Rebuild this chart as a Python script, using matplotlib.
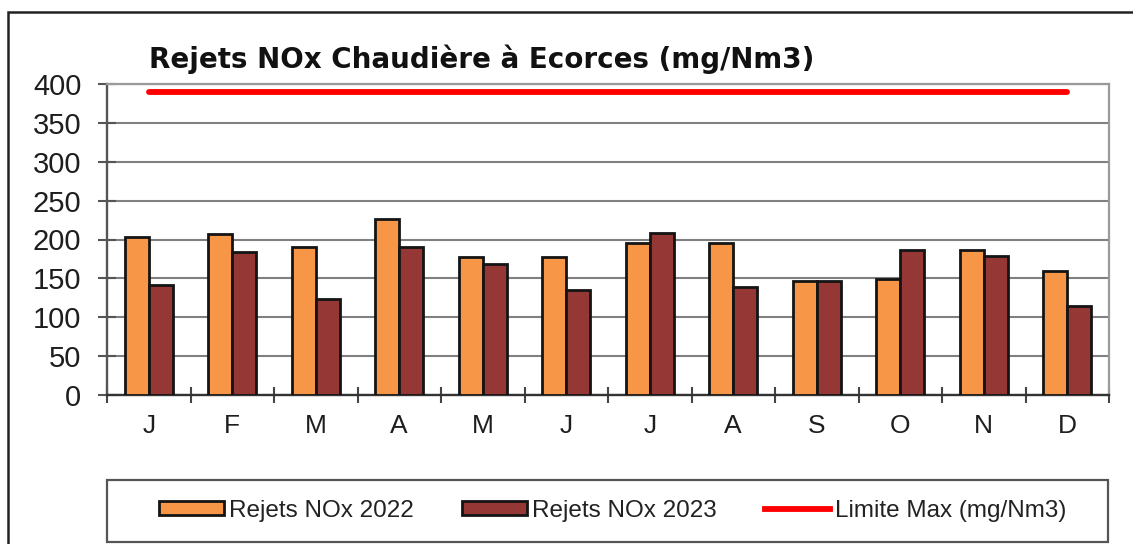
import matplotlib
matplotlib.use("Agg")
import matplotlib.pyplot as plt
from matplotlib.patches import Rectangle
from matplotlib.lines import Line2D
import numpy as np

months = ["J", "F", "M", "A", "M", "J", "J", "A", "S", "O", "N", "D"]
nox_2022 = [203, 207, 190, 227, 178, 178, 195, 195, 146, 149, 186, 160]
nox_2023 = [141, 184, 123, 190, 168, 135, 209, 139, 146, 186, 179, 115]
limite_max = [390] * 12
yticks = [0, 50, 100, 150, 200, 250, 300, 350, 400]

title = "Rejets NOx Chaudière à Ecorces (mg/Nm3)"
labels = ["Rejets NOx 2022", "Rejets NOx 2023", "Limite Max (mg/Nm3)"]

c_2022 = "#F79646"
c_2023 = "#953735"
c_lim = "#FF0000"
c_edge = "#141414"

plt.rcParams['font.family'] = ['Liberation Sans', 'DejaVu Sans']

W, H = 1133, 544
fig = plt.figure(figsize=(W / 100, H / 100), dpi=100)
fig.patch.set_facecolor("white")

# axes placement in pixels
L, R, T, B = 107, 1109, 84, 395
ax = fig.add_axes([L / W, 1 - B / H, (R - L) / W, (B - T) / H])

x = np.arange(len(months))
bw = 0.29
ax.bar(x - bw / 2, nox_2022, width=bw, color=c_2022, edgecolor=c_edge,
       linewidth=2.0, zorder=3, label=labels[0])
ax.bar(x + bw / 2, nox_2023, width=bw, color=c_2023, edgecolor=c_edge,
       linewidth=2.0, zorder=3, label=labels[1])
ax.plot(x, limite_max, color=c_lim, linewidth=4.2, solid_capstyle="round",
        zorder=4, label=labels[2])

ax.set_xlim(-0.5, len(months) - 0.5)
ax.set_ylim(0, 400)
ax.set_yticks(yticks)
ax.set_yticklabels([str(v) for v in yticks])
ax.set_xticks(x)
ax.set_xticklabels(months)
ax.set_xticks(np.arange(-0.5, len(months), 1.0), minor=True)

ax.yaxis.grid(True, color="#808080", linewidth=1.5, zorder=0)
ax.set_axisbelow(True)

for s in ["top", "right"]:
    ax.spines[s].set_color("#9a9a9a")
    ax.spines[s].set_linewidth(1.6)
ax.spines["left"].set_color("#555555")
ax.spines["left"].set_linewidth(1.7)
ax.spines["bottom"].set_color("#333333")
ax.spines["bottom"].set_linewidth(1.7)

ax.tick_params(axis="y", which="major", direction="inout", length=13, width=1.5,
               color="#555555", labelsize=21, pad=12, labelcolor="#1e1e1e")
ax.tick_params(axis="x", which="major", length=0, labelsize=19, pad=14,
               labelcolor="#1e1e1e")
ax.tick_params(axis="x", which="minor", direction="inout", length=12, width=1.5,
               color="#444444")

# title
fig.text(149 / W, 1 - 68 / H, title, fontsize=20, fontweight="bold",
         family=["DejaVu Sans"], ha="left", va="baseline", color="#111111")

# outer frame (extends beyond right and bottom edges)
fig.patches.append(Rectangle((8 / W, -0.2), 1.5, 1 - 12 / H + 0.2,
                             transform=fig.transFigure, fill=False,
                             edgecolor="#222222", linewidth=1.8, zorder=0))

# legend box
lx0, lx1, ly0, ly1 = 107, 1108, 480, 542
fig.patches.append(Rectangle((lx0 / W, 1 - ly1 / H), (lx1 - lx0) / W, (ly1 - ly0) / H,
                             transform=fig.transFigure, fill=False,
                             edgecolor="#555555", linewidth=1.6, zorder=1))

handles = [
    Rectangle((0, 0), 1, 1, facecolor=c_2022, edgecolor=c_edge, linewidth=2.0),
    Rectangle((0, 0), 1, 1, facecolor=c_2023, edgecolor=c_edge, linewidth=2.0),
    Line2D([0], [0], color=c_lim, linewidth=4.2),
]
fig.legend(handles, labels, loc="center", bbox_to_anchor=(612.5 / W,
           1 - (ly0 + ly1) / 2 / H), ncol=3, frameon=False, fontsize=17.5,
           handlelength=2.67, handleheight=0.5, handletextpad=0.2,
           columnspacing=2.0, labelcolor="#222222")

fig.savefig("out.png", dpi=100, facecolor="white")
